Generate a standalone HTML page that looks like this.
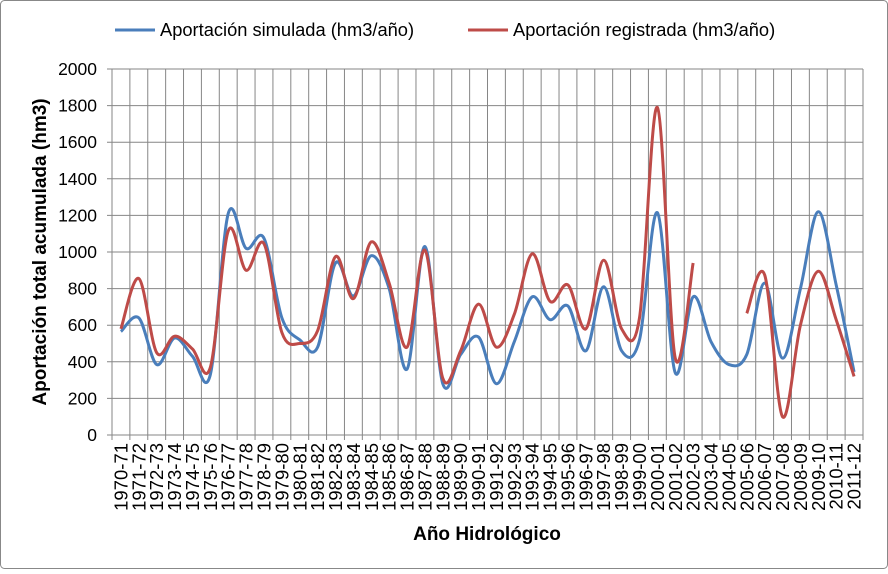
<!DOCTYPE html>
<html><head><meta charset="utf-8"><style>
body{margin:0;background:#fff}
svg{font-family:"Liberation Sans",Arial,sans-serif}
</style></head><body>
<svg id="c" width="888" height="569" xmlns="http://www.w3.org/2000/svg">
<rect x="0.5" y="0.5" width="887" height="568" rx="4" fill="#fff" stroke="#888"/>
<g id="grid"></g>
<g id="lab"></g>
<line x1="115" y1="30" x2="155" y2="30" stroke="#4a7ebb" stroke-width="3"/>
<text x="160" y="36" font-size="18.3">Aportación simulada (hm3/año)</text>
<line x1="468" y1="30" x2="508" y2="30" stroke="#be4b48" stroke-width="3"/>
<text x="513" y="36" font-size="18.3">Aportación registrada (hm3/año)</text>
<text transform="translate(46,252) rotate(-90)" text-anchor="middle" font-size="19" font-weight="bold">Aportación total acumulada (hm3)</text>
<text x="487" y="540" text-anchor="middle" font-size="19" font-weight="bold">Año Hidrológico</text>
<g id="series"></g>
</svg>
<script>
var L=112,R=863,T=69,B=435,N=42,w=(R-L)/N;
var ns="http://www.w3.org/2000/svg",g=document.getElementById("grid"),lab=document.getElementById("lab"),se=document.getElementById("series");
function el(p,t,a,txt){var e=document.createElementNS(ns,t);for(var k in a)e.setAttribute(k,a[k]);if(txt)e.textContent=txt;p.appendChild(e);return e;}
function Y(v){return B-(B-T)*v/2000;}
for(var v=0;v<=2000;v+=200){var y=Y(v);el(g,"line",{x1:L-5,x2:R,y1:y,y2:y,stroke:"#868686","stroke-width":1});
el(lab,"text",{x:97,y:y+6,"text-anchor":"end","font-size":17.5},""+v);}
for(var i=0;i<=N;i++){var x=L+i*w;el(g,"line",{x1:x,x2:x,y1:T,y2:B+5,stroke:"#868686","stroke-width":1});}
for(var i=0;i<N;i++){var yr=1970+i,s=yr+"-"+String((yr+1)%100).padStart(2,"0");var x=L+(i+0.5)*w+6.5;
el(lab,"text",{transform:"translate("+x+",443) rotate(-90)","text-anchor":"end","font-size":18.5},s);}
var sim=[565,640,385,530,430,330,1210,1020,1075,640,520,480,940,760,980,800,360,1030,280,440,535,280,510,755,630,705,460,810,460,520,1215,340,755,510,385,440,830,420,800,1220,820,345];
var reg=[580,855,450,540,470,370,1115,900,1045,560,500,570,975,745,1055,830,480,1010,310,460,715,480,660,990,730,820,580,955,580,640,1790,420,940,null,null,665,875,100,600,895,630,320];
function path(arr,col){var segs=[],cur=[];arr.forEach(function(v,i){if(v==null){if(cur.length)segs.push(cur);cur=[];}else cur.push([L+(i+0.5)*w,Y(v)]);});if(cur.length)segs.push(cur);
segs.forEach(function(p){var d="M"+p[0][0]+","+p[0][1];for(var i=0;i<p.length-1;i++){var p0=p[i-1]||p[i],p1=p[i],p2=p[i+1],p3=p[i+2]||p2;var t=1/6;
d+="C"+(p1[0]+(p2[0]-p0[0])*t)+","+(p1[1]+(p2[1]-p0[1])*t)+" "+(p2[0]-(p3[0]-p1[0])*t)+","+(p2[1]-(p3[1]-p1[1])*t)+" "+p2[0]+","+p2[1];}
el(se,"path",{d:d,fill:"none",stroke:col,"stroke-width":3,"stroke-linejoin":"round"});});}
path(sim,"#4a7ebb");path(reg,"#be4b48");
</script>
</body></html>
